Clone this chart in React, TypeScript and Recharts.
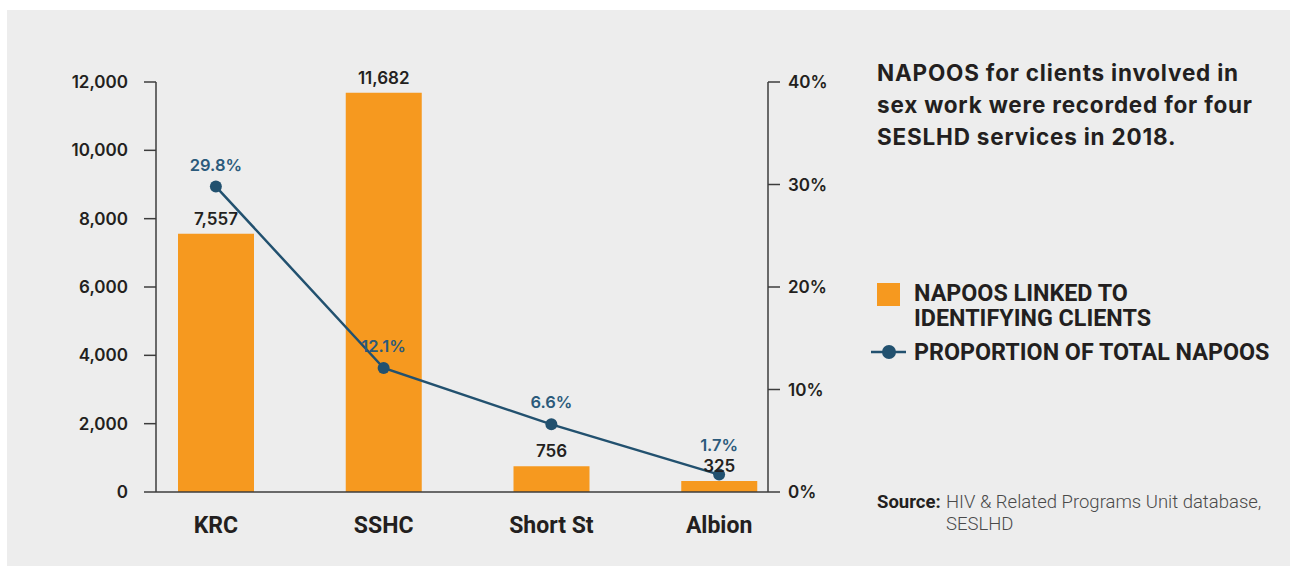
import React from 'react';
import { ComposedChart, Bar, Line, XAxis, YAxis, LabelList } from 'recharts';

const categories = ['KRC', 'SSHC', 'Short St', 'Albion'];
const napoosLinked = [7557, 11682, 756, 325];
const proportionPct = [29.8, 12.1, 6.6, 1.7];
const leftTicks = [0, 2000, 4000, 6000, 8000, 10000, 12000];
const rightTicks = [0, 10, 20, 30, 40];

const title = 'NAPOOS for clients involved in sex work were recorded for four SESLHD services in 2018.';
const legendBar = 'NAPOOS LINKED TO IDENTIFYING CLIENTS';
const legendLine = 'PROPORTION OF TOTAL NAPOOS';
const sourceLabel = 'Source:';
const sourceText = 'HIV & Related Programs Unit database, SESLHD';

const data = categories.map((c, i) => ({ name: c, linked: napoosLinked[i], pct: proportionPct[i] }));

const ORANGE = '#f6991f';
const BLUE = '#22516f';
const AXIS = '#3c3c3c';
const TEXT = '#231f20';
const numFont = 'Inter, sans-serif';

const CHART_H = 568;
const M_TOP = 82;
const M_BOTTOM = 26;
const X_AXIS_H = 50;
const LEFT_MAX = 12000;
const BAR_LABEL_OFFSET = 9;

// Line label: sits above its point, lifted above the bar's own value label if they would collide.
const PctLabel = (props: any) => {
  const vb = props.viewBox || {};
  const px = props.x ?? vb.x;
  const py = props.y ?? vb.y;
  const idx = props.index ?? 0;
  if (px == null || py == null) return null;
  const plotBottom = CHART_H - M_BOTTOM - X_AXIS_H;
  const plotH = plotBottom - M_TOP;
  const barTop = plotBottom - (napoosLinked[idx] / LEFT_MAX) * plotH;
  const barLabelBase = barTop - BAR_LABEL_OFFSET;
  let base = py - 16;
  if (base > barLabelBase - 18 && base - 14 < barLabelBase + 3) {
    base = barLabelBase - 21;
  }
  return (
    <text
      x={px}
      y={base}
      textAnchor="middle"
      fill="#2b5a7b"
      style={{ fontFamily: numFont, fontWeight: 600, fontSize: 16.5 }}
    >
      {`${Number(props.value).toFixed(1)}%`}
    </text>
  );
};

export default function App() {
  return (
    <div style={{ position: 'absolute', left: 0, top: 0, width: 1293, height: 568, background: '#ffffff', overflow: 'hidden' }}>
      <div style={{ position: 'absolute', left: 7, top: 10, width: 1283, height: 556, background: '#ededed' }} />
      <div style={{ position: 'absolute', left: 0, top: 0 }}>
        <ComposedChart
          width={860}
          height={CHART_H}
          data={data}
          margin={{ top: M_TOP, right: 32, bottom: M_BOTTOM, left: 56 }}
        >
          <XAxis
            dataKey="name"
            xAxisId="x"
            padding={{ left: -24, right: -35 }}
            axisLine={{ stroke: AXIS, strokeWidth: 1.5 }}
            tickLine={false}
            tickMargin={19}
            height={X_AXIS_H}
            tick={{ fill: TEXT, fontFamily: 'Roboto, sans-serif', fontWeight: 700, fontSize: 23 }}
          />
          <YAxis
            yAxisId="left"
            orientation="left"
            width={100}
            domain={[0, LEFT_MAX]}
            ticks={leftTicks}
            interval={0}
            tickFormatter={(v: number) => v.toLocaleString('en-US')}
            axisLine={{ stroke: AXIS, strokeWidth: 1.5 }}
            tickLine={{ stroke: AXIS, strokeWidth: 1.5 }}
            tickSize={12}
            tickMargin={16}
            tick={{ fill: TEXT, fontFamily: numFont, fontWeight: 600, fontSize: 17 }}
          />
          <YAxis
            yAxisId="right"
            orientation="right"
            width={60}
            domain={[0, 40]}
            ticks={rightTicks}
            interval={0}
            tickFormatter={(v: number) => `${v}%`}
            axisLine={{ stroke: AXIS, strokeWidth: 1.5 }}
            tickLine={{ stroke: AXIS, strokeWidth: 1.5 }}
            tickSize={12}
            tickMargin={8}
            tick={{ fill: TEXT, fontFamily: numFont, fontWeight: 600, fontSize: 17 }}
          />
          <Bar
            dataKey="linked"
            xAxisId="x"
            yAxisId="left"
            fill={ORANGE}
            barSize={76}
            isAnimationActive={false}
          >
            <LabelList
              dataKey="linked"
              position="top"
              offset={BAR_LABEL_OFFSET}
              formatter={(v: number) => v.toLocaleString('en-US')}
              style={{ fill: TEXT, fontFamily: numFont, fontWeight: 600, fontSize: 17 }}
            />
          </Bar>
          <Line
            dataKey="pct"
            xAxisId="x"
            yAxisId="right"
            stroke={BLUE}
            strokeWidth={2.5}
            dot={{ r: 6, fill: BLUE, stroke: BLUE, strokeWidth: 0 }}
            activeDot={false}
            isAnimationActive={false}
          >
            <LabelList dataKey="pct" content={PctLabel} />
          </Line>
        </ComposedChart>
      </div>

      <div
        style={{
          position: 'absolute',
          left: 877,
          top: 57,
          width: 386,
          fontFamily: 'Inter, sans-serif',
          fontWeight: 700,
          fontSize: 22.5,
          letterSpacing: '0.8px',
          lineHeight: '32px',
          color: TEXT,
        }}
      >
        {title}
      </div>

      <div style={{ position: 'absolute', left: 868, top: 281, width: 425, fontFamily: 'Roboto, sans-serif', fontWeight: 700, fontSize: 23.3, color: TEXT }}>
        <div style={{ display: 'flex', alignItems: 'flex-start' }}>
          <div style={{ width: 23, height: 23, background: ORANGE, marginLeft: 9, marginTop: 2, flex: 'none' }} />
          <div style={{ marginLeft: 14, lineHeight: '24.5px', width: 265 }}>{legendBar}</div>
        </div>
        <div style={{ display: 'flex', alignItems: 'center', marginTop: 10 }}>
          <svg width={40} height={20} style={{ flex: 'none' }}>
            <line x1={3} y1={10} x2={38} y2={10} stroke={BLUE} strokeWidth={2.5} />
            <circle cx={21} cy={10} r={7} fill={BLUE} />
          </svg>
          <div style={{ marginLeft: 6, lineHeight: '24px', whiteSpace: 'nowrap' }}>{legendLine}</div>
        </div>
      </div>

      <div
        style={{
          position: 'absolute',
          left: 877,
          top: 491,
          width: 410,
          display: 'flex',
          fontFamily: 'Roboto, sans-serif',
          fontSize: 18.5,
          lineHeight: '22px',
          color: '#4a4a4a',
        }}
      >
        <div style={{ fontWeight: 700, color: TEXT, flex: 'none', width: 69 }}>{sourceLabel}</div>
        <div style={{ fontWeight: 300, width: 335 }}>{sourceText}</div>
      </div>
    </div>
  );
}
